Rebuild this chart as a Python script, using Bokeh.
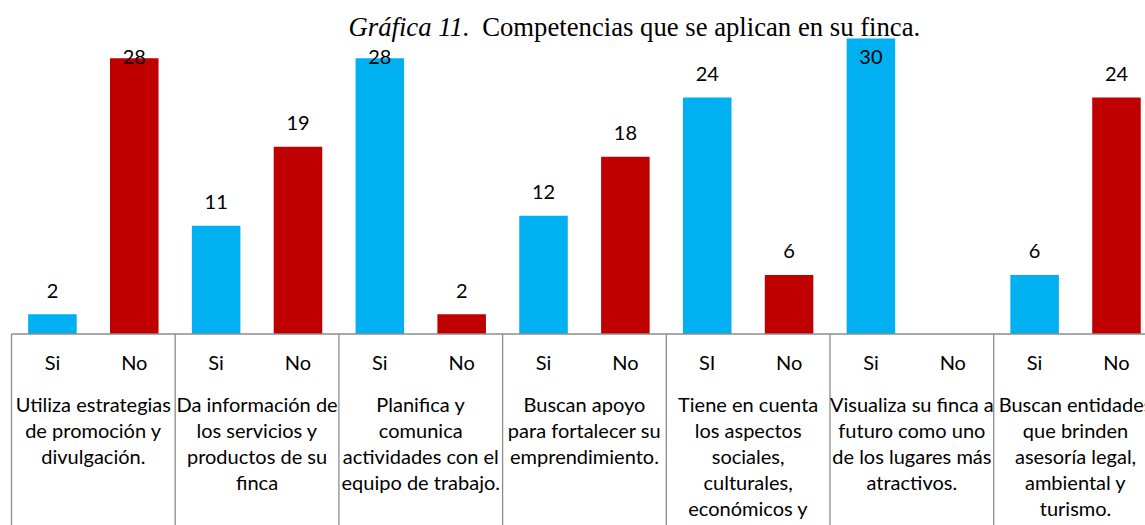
from bokeh.plotting import figure
from bokeh.models import Range1d, ColumnDataSource
from bokeh.core.properties import value
from bokeh.embed import file_html
from bokeh.resources import INLINE

# ---------------- data ----------------
groups = [
    "Utiliza estrategias\nde promoción y\ndivulgación.",
    "Da información de\nlos servicios y\nproductos de su\nfinca",
    "Planifica y\ncomunica\nactividades con el\nequipo de trabajo.",
    "Buscan apoyo\npara fortalecer su\nemprendimiento.",
    "Tiene en cuenta\nlos aspectos\nsociales,\nculturales,\neconómicos y",
    "Visualiza su finca a\nfuturo como uno\nde los lugares más\natractivos.",
    "Buscan entidades\nque brinden\nasesoría legal,\nambiental y\nturismo.",
]
si_labels = ["Si", "Si", "Si", "Si", "SI", "Si", "Si"]
no_labels = ["No", "No", "No", "No", "No", "No", "No"]
si_values = [2, 11, 28, 12, 24, 30, 6]
no_values = [28, 19, 2, 18, 6, None, 24]
title_italic = "Gráfica 11."
title_rest = "Competencias que se aplican en su finca."

# ---------------- layout helpers ----------------
W, H = 1145, 525
CANVAS_LEFT, CANVAS_TOP = 0, 0
X0_PAGE = 11.0       # page x of the left edge of first category
PX_X = 81.85         # pixels per sub-category
BASE_PAGE = 333.5    # page y of value 0
PX_Y = 9.85          # pixels per unit value
TEXT_SHIFT = -7      # renderer baseline correction (pixels)

def dx(page_x):
    return (page_x - X0_PAGE) / PX_X

def dy(page_y):
    return (BASE_PAGE - page_y) / PX_Y

def ty(page_y):
    return dy(page_y + TEXT_SHIFT)

x_start = dx(CANVAS_LEFT)
x_end = dx(CANVAS_LEFT + W)
y_end = dy(CANVAS_TOP)
y_start = dy(CANVAS_TOP + H)

BLUE = "#00B0F0"
RED = "#C00000"
GRAY = "#8C8C8C"
LABEL_FONT = value("Lato")
LABEL_SIZE = "20px"

p = figure(width=W, height=H,
           x_range=Range1d(x_start, x_end), y_range=Range1d(y_start, y_end),
           output_backend="svg", toolbar_location=None, min_border=0,
           x_axis_location=None, y_axis_location=None)
p.grid.visible = False
p.outline_line_color = None
p.background_fill_color = "white"
p.border_fill_color = "white"

# ---------------- bars ----------------
xs, tops, colors, subs = [], [], [], []
for g in range(len(groups)):
    for k, (vals, labs, col) in enumerate([(si_values, si_labels, BLUE),
                                           (no_values, no_labels, RED)]):
        xs.append(2 * g + k + 0.5)
        tops.append(vals[g] if vals[g] is not None else 0)
        colors.append(col)
        subs.append(labs[g])

src = ColumnDataSource(dict(x=xs, top=tops, color=colors, sub=subs))
p.vbar(x="x", top="top", bottom=0, width=0.593, fill_color="color",
       line_color=None, source=src)

# value labels (Excel-like: clamped inside plot top)
clamp = ty(63)
lx, ly, lt = [], [], []
for g in range(len(groups)):
    for k, vals in enumerate([si_values, no_values]):
        v = vals[g]
        if v is None:
            continue
        lx.append(2 * g + k + 0.5)
        ly.append(min(v + (16.5 - TEXT_SHIFT) / PX_Y, clamp))
        lt.append(str(v))
p.text(x=lx, y=ly, text=lt, text_align="center", text_baseline="alphabetic",
       text_font=LABEL_FONT, text_font_size=LABEL_SIZE, text_color="black")

# ---------------- category axis ----------------
n_units = 2 * len(groups)
p.segment(x0=[0], y0=[0], x1=[n_units], y1=[0], line_color=GRAY, line_width=1.3)
sep_x = [2 * g for g in range(len(groups) + 1)]
p.segment(x0=sep_x, y0=[0] * len(sep_x), x1=sep_x, y1=[y_start] * len(sep_x),
          line_color=GRAY, line_width=1.3)

p.text(x="x", y=ty(368), text="sub", source=src, text_align="center",
       text_baseline="alphabetic", text_font=LABEL_FONT,
       text_font_size=LABEL_SIZE, text_color="black")

gx, gy, gt = [], [], []
for g, label in enumerate(groups):
    for j, line in enumerate(label.split("\n")):
        gx.append(2 * g + 1)
        gy.append(ty(410 + 26 * j))
        gt.append(line)
p.text(x=gx, y=gy, text=gt, text_align="center", text_baseline="alphabetic",
       text_font=LABEL_FONT, text_font_size=LABEL_SIZE, text_color="black")

# ---------------- title ----------------
p.text(x=[dx(348)], y=[ty(33)], text=[title_italic], text_align="left",
       text_baseline="alphabetic", text_font=value("Liberation Serif"),
       text_font_style="italic", text_font_size="26.7px", text_color="black")
p.text(x=[dx(481.7)], y=[ty(33)], text=[title_rest], text_align="left",
       text_baseline="alphabetic", text_font=value("Liberation Serif"),
       text_font_size="26.7px", text_color="black")

open("out.html", "w").write(file_html(p, INLINE))
